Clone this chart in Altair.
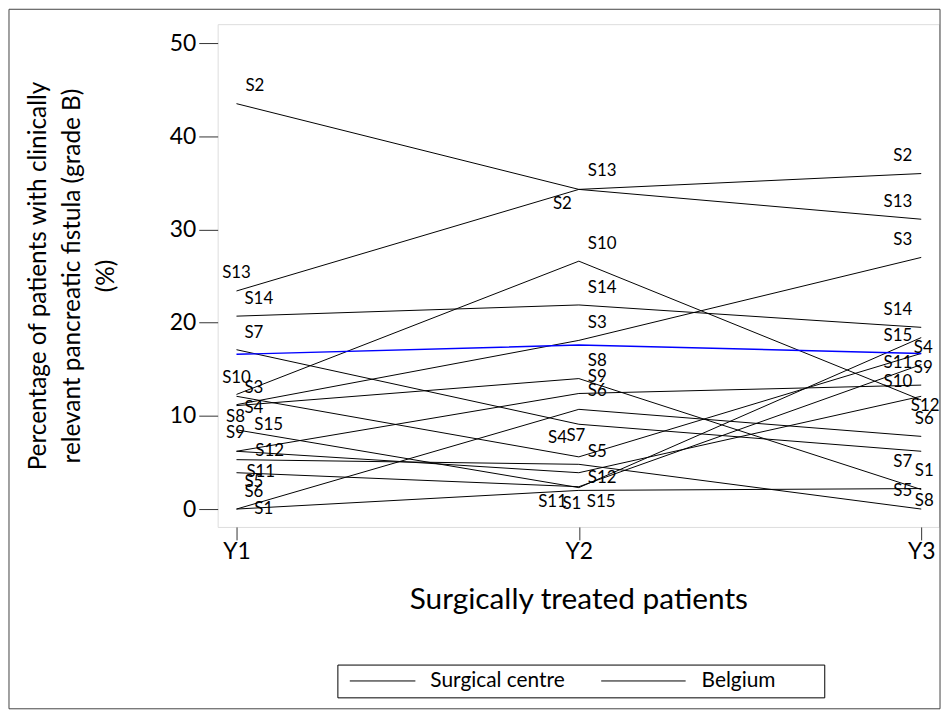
import altair as alt
import pandas as pd

# ---------------- data ----------------
years = ["Y1", "Y2", "Y3"]
centres = ["S1", "S2", "S3", "S4", "S5", "S6", "S7", "S8",
           "S9", "S10", "S11", "S12", "S13", "S14", "S15"]
val_y1 = [0.0, 43.5, 11.2, 12.1, 5.3, 0.0, 17.1, 11.1,
          6.2, 12.3, 3.9, 6.2, 23.4, 20.7, 8.5]
val_y2 = [2.0, 34.3, 18.1, 5.6, 4.8, 10.7, 9.1, 14.0,
          12.4, 26.6, 2.4, 3.9, 34.3, 21.9, 2.3]
val_y3 = [2.2, 36.0, 27.0, 16.7, 0.0, 7.8, 6.2, 2.1,
          13.3, 11.7, 15.5, 12.1, 31.1, 19.5, 18.4]
belgium = [16.6, 17.6, 16.7]
series_names = ["Surgical centre", "Belgium"]

# label placement style per year index: centre -> (dx, dy, align)
label_style = {
    1: {"S2": (9, -18, "left"), "S13": (0, -18, "center"), "S14": (8, -17, "left"),
        "S7": (8, -17, "left"), "S10": (0, -17, "center"), "S3": (8, -17, "left"),
        "S4": (8, 12, "left"), "S8": (-1, 11, "center"), "S15": (18, -5, "left"),
        "S9": (-1, -18, "center"), "S12": (19, 0, "left"), "S11": (10, -1, "left"),
        "S5": (8, 23, "left"), "S6": (8, -17, "left"), "S1": (18, 0, "left")},
    2: {"S2": (-7, 15, "right"), "S13": (9, -18, "left"), "S10": (9, -17, "left"),
        "S14": (9, -17, "left"), "S3": (9, -17, "left"), "S8": (9, -18, "left"),
        "S9": (9, -17, "left"), "S6": (9, -18, "left"), "S7": (-3, 12, "center"),
        "S4": (-12, -19, "right"), "S5": (9, -12, "left"), "S12": (9, 5, "left"),
        "S11": (-12, 15, "right"), "S1": (-7, 14, "center"), "S15": (8, 14, "left")},
    3: {"S2": (-9, -18, "right"), "S13": (-9, -17, "right"), "S3": (-9, -18, "right"),
        "S14": (-9, -17, "right"), "S15": (-9, -2, "right"), "S4": (2, -5, "center"),
        "S11": (-9, -2, "right"), "S9": (2, -17, "center"), "S10": (-9, -18, "right"),
        "S12": (4, 10, "center"), "S6": (3, -17, "center"), "S7": (-9, 11, "right"),
        "S1": (3, -18, "center"), "S5": (-9, -18, "right"), "S8": (3, 12, "center")},
}

rows = []
for i, c in enumerate(centres):
    for t, vals in zip([1, 2, 3], [val_y1, val_y2, val_y3]):
        dx, dy, al = label_style[t][c]
        rows.append({"centre": c, "t": t, "v": vals[i], "dx": dx, "dy": dy, "al": al})
df = pd.DataFrame(rows)
bdf = pd.DataFrame({"centre": "Belgium", "t": [1, 2, 3], "v": belgium})

FONT = "Lato"
W, H = 726, 506

xscale = alt.Scale(domain=[0.945, 3.052], nice=False, zero=False)
yscale = alt.Scale(domain=[-1.92, 52.03], nice=False, zero=False)

xaxis = alt.Axis(values=[1, 2, 3], labelExpr="'Y' + datum.value", title="Surgically treated patients",
                 domain=False, grid=False, tickSize=13, tickColor="#333", tickWidth=1,
                 labelFont=FONT, labelFontSize=23, labelColor="black", labelPadding=1,
                 labelBaseline="top", titleFont=FONT, titleFontSize=30, titleFontWeight="normal",
                 titleColor="black", titleY=73, titleBaseline="middle")
yaxis = alt.Axis(values=[0, 10, 20, 30, 40, 50], title=["Percentage of patients with clinically",
                 "relevant pancreatic fistula (grade B)", "(%)"],
                 domain=False, grid=False, tickSize=19, tickColor="#333", tickWidth=1,
                 labelFont=FONT, labelFontSize=23, labelColor="black", labelPadding=3,
                 titleFont=FONT, titleFontSize=24.5, titleFontWeight="normal", titleColor="black",
                 titleAngle=-90, titleX=-192, titleY=253, titleBaseline="top",
                 titleAlign="center", titleLineHeight=34)

lines = alt.Chart(df).mark_line(strokeWidth=1, color="black", clip=False).encode(
    x=alt.X("t:Q", scale=xscale, axis=xaxis),
    y=alt.Y("v:Q", scale=yscale, axis=yaxis),
    detail="centre:N",
)
bel = alt.Chart(bdf).mark_line(strokeWidth=1.5, color="#0000ff", clip=False).encode(
    x=alt.X("t:Q", scale=xscale), y=alt.Y("v:Q", scale=yscale))

text_layers = []
for al in ["left", "center", "right"]:
    for (dx, dy) in sorted(set((r["dx"], r["dy"]) for r in rows if r["al"] == al)):
        sub = df[(df["al"] == al) & (df["dx"] == dx) & (df["dy"] == dy)]
        text_layers.append(
            alt.Chart(sub).mark_text(font=FONT, fontSize=17, color="black", align=al,
                                     baseline="middle", dx=dx, dy=dy, clip=False).encode(
                x=alt.X("t:Q", scale=xscale), y=alt.Y("v:Q", scale=yscale), text="centre:N")
        )

one = pd.DataFrame({"a": [0]})
frame = alt.Chart(one).mark_rect(fill=None, stroke="#444", strokeWidth=1, clip=False).encode(
    x=alt.value(-210), x2=alt.value(727), y=alt.value(-15), y2=alt.value(689))

# legend (drawn manually)
leg_box = alt.Chart(one).mark_rect(fill="white", stroke="black", strokeWidth=1, clip=False).encode(
    x=alt.value(121), x2=alt.value(611), y=alt.value(645), y2=alt.value(678))
leg_l1 = alt.Chart(one).mark_rule(color="black", strokeWidth=1, clip=False).encode(
    x=alt.value(133), x2=alt.value(199), y=alt.value(661))
leg_t1 = alt.Chart(one).mark_text(text=series_names[0], font=FONT, fontSize=21, color="black",
                                  align="left", baseline="middle", clip=False).encode(
    x=alt.value(214), y=alt.value(661))
leg_l2 = alt.Chart(one).mark_rule(color="black", strokeWidth=1, clip=False).encode(
    x=alt.value(386), x2=alt.value(471), y=alt.value(661))
leg_t2 = alt.Chart(one).mark_text(text=series_names[1], font=FONT, fontSize=21, color="black",
                                  align="left", baseline="middle", clip=False).encode(
    x=alt.value(487), y=alt.value(661))

chart = alt.layer(frame, leg_box, leg_l1, leg_t1, leg_l2, leg_t2, lines, bel, *text_layers).properties(
    width=W, height=H, autosize=alt.AutoSizeParams(type="none"),
    padding={"left": 211, "top": 14, "right": 5, "bottom": 190},
).configure_view(stroke="black", strokeWidth=1).configure(background="white")

chart.save("out.html", embed_options={"renderer": "svg", "actions": False})
